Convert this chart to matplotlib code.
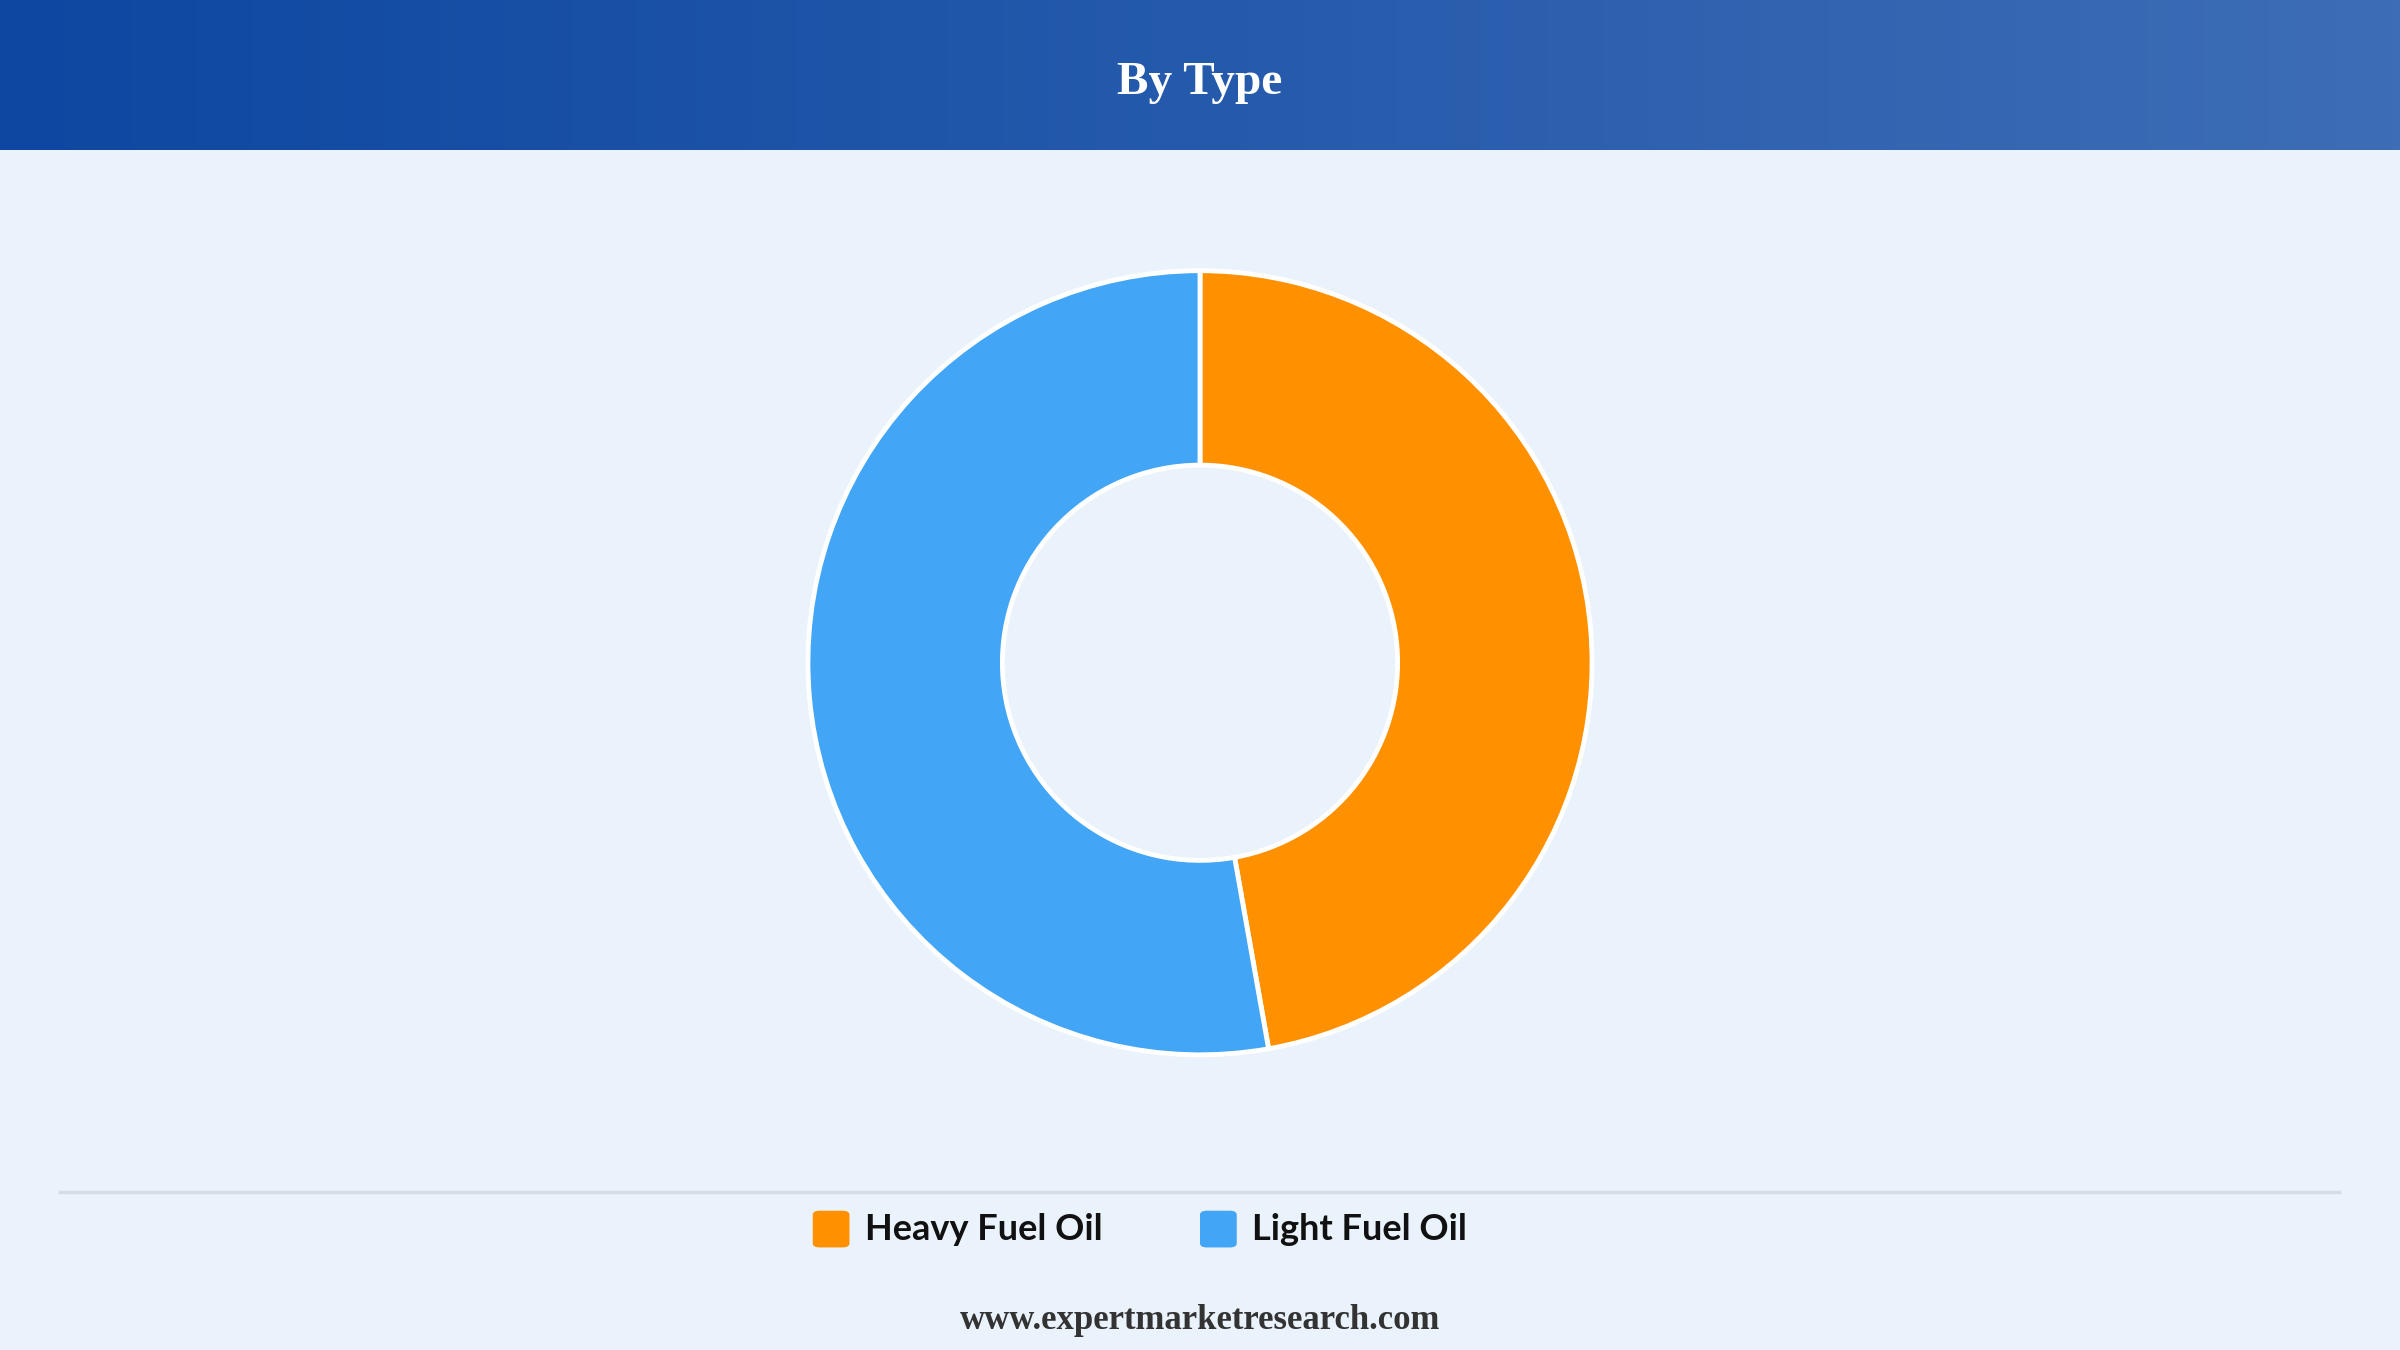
import matplotlib
matplotlib.use("Agg")
import matplotlib.pyplot as plt
import numpy as np
from matplotlib.patches import FancyBboxPatch
from matplotlib.colors import LinearSegmentedColormap

categories = ["Heavy Fuel Oil", "Light Fuel Oil"]
values = [47.2, 52.8]
colors = ["#FF9100", "#42A5F5"]

fig = plt.figure(figsize=(24, 13.5), dpi=100)
fig.patch.set_facecolor("#EAF2FC")

# header gradient
hax = fig.add_axes([0, 1 - 98/882, 1, 98/882])
grad = np.linspace(0, 1, 512).reshape(1, -1)
cm = LinearSegmentedColormap.from_list("g", ["#0D47A1", "#3D6DB6"])
hax.imshow(grad, aspect="auto", cmap=cm, extent=[0, 1, 0, 1])
hax.set_axis_off()
hax.text(0.5, 0.45, "By Type", ha="center", va="center", color="white",
         fontsize=34, fontweight="bold", family="Liberation Serif")

# donut
D = 7.92
ax = fig.add_axes([0.5 - (D/24)/2, (1 - 433/882) - (D/13.5)/2, D/24, D/13.5])
ax.pie(values, colors=colors, startangle=90, counterclock=False,
       wedgeprops=dict(width=0.496, edgecolor="white", linewidth=3.5))
ax.set_xlim(-1.01, 1.01); ax.set_ylim(-1.01, 1.01)
ax.set_aspect("equal")
ax.set_axis_off()

# separator line
fig.add_artist(plt.Line2D([39/1568, 1528/1568], [1 - 779/882]*2, color="#D6DCE3", lw=2.5))

# legend
ly = 1 - 803/882
sq_x = [531/1568, 784/1568]
for x, c, lab in zip(sq_x, colors, categories):
    w = 24/1568; h = 24/882
    fig.add_artist(FancyBboxPatch((x, ly - h/2), w, h,
                   boxstyle="round,pad=0,rounding_size=0.003",
                   transform=fig.transFigure, facecolor=c, edgecolor="none"))
    fig.text(x + 34/1568, ly, lab, ha="left", va="center", fontsize=26,
             fontweight="bold", family="Lato", color="#111111")

fig.text(0.5, 1 - 863/882, "www.expertmarketresearch.com", ha="center", va="center",
         fontsize=25, fontweight="bold", family="Liberation Serif", color="#333333")

fig.savefig("out.png", dpi=100, facecolor=fig.get_facecolor())
